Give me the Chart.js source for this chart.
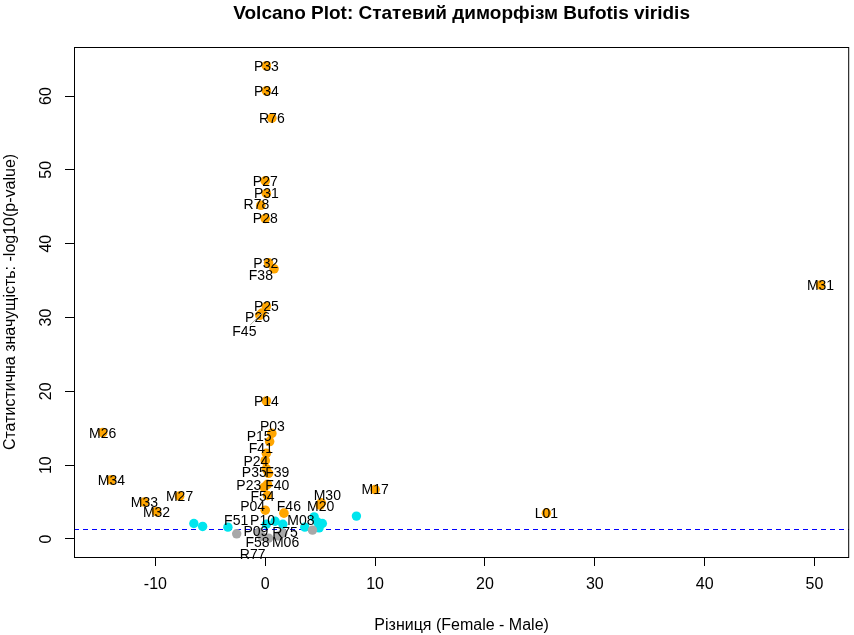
<!DOCTYPE html>
<html>
<head>
<meta charset="utf-8">
<script src="https://cdn.jsdelivr.net/npm/chart.js@4/dist/chart.umd.min.js"></script>
<style>
  html, body { margin: 0; padding: 0; background: #fff; }
</style>
</head>
<body>
<canvas id="volcano" width="854" height="635"></canvas>
<script>
// sample codes ('' = point without a label)
const names = [
  'P33', 'P34', 'R76', 'P27', 'P31', 'R78', 'P28', 'P32', 'F38', 'P25', 'P26', 'F45',
  'P14', 'P03', 'P15', 'F41', 'P24', 'P35', 'F39', 'P23', 'F40', 'F54', 'P04', 'F46',
  'M30', 'M20', 'M17', 'L01', 'M31', 'M26', 'M34', 'M33', 'M32', 'M27',
  'F51', 'P10', 'M08', '', '', '', '', '', '', '', '', '',
  'P09', 'R75', 'F58', 'M06', 'R77', '', ''
];
// difference (Female - Male)
const diffs = [
  0.1, 0.1, 0.6, 0.0, 0.1, -0.4, 0.0, 0.3, 0.8, 0.1, -0.5, -0.3,
  0.1, 0.6, 0.4, 0.1, 0.0, 0.1, 0.3, -0.1, 0.2, 0.2, 0.0, 1.7,
  5.1, 5.0, 10.0, 25.6, 50.55, -14.8, -14.0, -11.0, -9.9, -7.8,
  -3.4, 0.1, 3.6, -6.5, -5.7, 1.6, 0.9, 4.45, 4.75, 5.2, 4.9, 8.3,
  -0.6, 1.6, -0.3, 1.2, 0.3, -2.6, 4.3
];
// -log10(p-value)
const logP = [
  64.1, 60.7, 57.0, 48.5, 46.8, 45.2, 43.4, 37.4, 36.6, 31.5, 30.3, 30.6,
  18.7, 14.3, 13.2, 11.6, 10.6, 9.5, 8.9, 7.0, 7.4, 5.9, 3.9, 3.5,
  4.9, 4.6, 6.7, 3.5, 34.4, 14.4, 8.0, 5.0, 3.7, 5.8,
  1.6, 2.0, 1.6, 2.1, 1.7, 2.0, 2.4, 3.0, 2.3, 2.1, 1.5, 3.1,
  0.9, 0.8, 0.35, 0.4, 0.12, 0.7, 1.2
];
// colour class: 'sig' orange, 'mid' cyan, 'ns' grey
const groups = [
  'sig', 'sig', 'sig', 'sig', 'sig', 'sig', 'sig', 'sig', 'sig', 'sig', 'sig', 'sig',
  'sig', 'sig', 'sig', 'sig', 'sig', 'sig', 'sig', 'sig', 'sig', 'sig', 'sig', 'sig',
  'sig', 'sig', 'sig', 'sig', 'sig', 'sig', 'sig', 'sig', 'sig', 'sig',
  'mid', 'mid', 'mid', 'mid', 'mid', 'mid', 'mid', 'mid', 'mid', 'mid', 'mid', 'mid',
  'ns', 'ns', 'ns', 'ns', 'ns', 'ns', 'ns'
];
const xTicks = [-10, 0, 10, 20, 30, 40, 50];
const yTicks = [0, 10, 20, 30, 40, 50, 60];
const pCut = 0.05;

// labels that were pushed away from their point (data units)
const labelAt = {
  R78: [-0.8, 45.4], P32: [0.05, 37.4], F38: [-0.4, 35.8], P26: [-0.7, 30.0],
  F45: [-1.9, 28.2], P03: [0.65, 15.3], P15: [-0.55, 13.9], F41: [-0.4, 12.3],
  P24: [-0.85, 10.6], P35: [-1.0, 9.0], F39: [1.1, 9.0], P23: [-1.5, 7.3],
  F40: [1.1, 7.3], F54: [-0.25, 5.8], P04: [-1.15, 4.4], F46: [2.15, 4.4],
  M30: [5.65, 6.0], M20: [5.05, 4.5], F51: [-2.65, 2.6], P10: [-0.25, 2.6],
  M08: [3.25, 2.5], P09: [-0.85, 1.0], R75: [1.8, 0.9], F58: [-0.7, -0.45],
  M06: [1.85, -0.45], R77: [-1.15, -2.0]
};
const leaders = ['F45'];

const fam = '"Liberation Sans", Arial, Helvetica, sans-serif';
const colours = { sig: '#FFA500', mid: '#00E5EE', ns: '#A8A8A8' };

function pointsOf(g) {
  const out = [];
  for (let i = 0; i < diffs.length; i++) {
    if (groups[i] === g) out.push({ x: diffs[i], y: logP[i] });
  }
  return out;
}

//drawing helpers: frame, threshold line, labels, titles
const volcanoExtras = {
  id: 'volcanoExtras',
  beforeDatasetsDraw(chart) {
    const { ctx, chartArea: { left, right, top, bottom }, scales: { y } } = chart;
    const yy = Math.round(y.getPixelForValue(-Math.log10(pCut))) + 0.5;
    ctx.save();
    ctx.beginPath();
    ctx.rect(left, top, right - left, bottom - top);
    ctx.clip();
    ctx.strokeStyle = '#0000FF';
    ctx.lineWidth = 1;
    ctx.setLineDash([5, 4]);
    ctx.beginPath();
    ctx.moveTo(left, yy);
    ctx.lineTo(right, yy);
    ctx.stroke();
    ctx.restore();
  },
  afterDatasetsDraw(chart) {
    const { ctx, scales: { x, y } } = chart;
    ctx.save();
    ctx.font = `14px ${fam}`;
    ctx.fillStyle = '#000';
    ctx.textAlign = 'center';
    ctx.textBaseline = 'middle';
    for (let i = 0; i < names.length; i++) {
      const n = names[i];
      if (!n) continue;
      const pos = labelAt[n] || [diffs[i], logP[i]];
      const lx = x.getPixelForValue(pos[0]);
      const ly = y.getPixelForValue(pos[1]);
      if (leaders.includes(n)) {
        ctx.strokeStyle = '#B0B0A0';
        ctx.lineWidth = 1;
        ctx.beginPath();
        ctx.moveTo(x.getPixelForValue(diffs[i]), y.getPixelForValue(logP[i]));
        ctx.lineTo(lx + 6, ly - 6);
        ctx.stroke();
      }
      ctx.fillText(n, lx, ly + 1);
    }
    ctx.restore();
  },
  afterDraw(chart) {
    const { ctx, chartArea: { left, right, top, bottom }, scales: { y } } = chart;
    ctx.save();
    ctx.strokeStyle = '#000';
    ctx.lineWidth = 1;
    ctx.strokeRect(left + 0.5, top + 0.5, right - left - 1, bottom - top);

    // y tick labels, turned like R does
    ctx.fillStyle = '#000';
    ctx.font = `16px ${fam}`;
    ctx.textAlign = 'center';
    ctx.textBaseline = 'middle';
    yTicks.forEach(v => {
      ctx.save();
      ctx.translate(47, y.getPixelForValue(v));
      ctx.rotate(-Math.PI / 2);
      ctx.fillText(String(v), 0, 0);
      ctx.restore();
    });

    ctx.font = `bold 19px ${fam}`;
    ctx.fillText('Volcano Plot: Статевий диморфізм Bufotis viridis', (left + right) / 2, 14);
    ctx.restore();
  }
};

const chart = new Chart(document.getElementById('volcano'), {
  type: 'scatter',
  data: {
    datasets: [
      { data: pointsOf('ns'), backgroundColor: colours.ns, borderWidth: 0, pointRadius: 4.7 },
      { data: pointsOf('mid'), backgroundColor: colours.mid, borderWidth: 0, pointRadius: 4.7 },
      { data: pointsOf('sig'), backgroundColor: colours.sig, borderWidth: 0, pointRadius: 4.8 }
    ]
  },
  options: {
    responsive: false,
    animation: false,
    events: [],
    layout: { padding: { top: 47, right: 2, left: 0, bottom: 0 } },
    plugins: { legend: { display: false }, tooltip: { enabled: false } },
    scales: {
      x: {
        type: 'linear',
        min: -17.41,
        max: 53.16,
        afterBuildTicks: s => { s.ticks = xTicks.map(v => ({ value: v })); },
        afterFit: s => { s.height = 78; },
        grid: { drawOnChartArea: false, tickLength: 9, tickColor: '#000', color: '#000' },
        border: { display: false },
        ticks: { color: '#000', font: { family: fam, size: 16 }, padding: 9, maxRotation: 0, autoSkip: false },
        title: { display: true, text: 'Різниця (Female - Male)', color: '#000', font: { family: fam, size: 16 }, padding: 0 }
      },
      y: {
        type: 'linear',
        min: -2.44,
        max: 66.64,
        afterBuildTicks: s => { s.ticks = yTicks.map(v => ({ value: v })); },
        afterFit: s => { s.width = 74; },
        grid: { drawOnChartArea: false, tickLength: 9, tickColor: '#000', color: '#000' },
        border: { display: false },
        ticks: { display: false },
        title: { display: true, text: 'Статистична значущість: -log10(p-value)', color: '#000', font: { family: fam, size: 16 }, padding: { top: 1, bottom: 0 } }
      }
    }
  },
  plugins: [volcanoExtras]
});
</script>
</body>
</html>
